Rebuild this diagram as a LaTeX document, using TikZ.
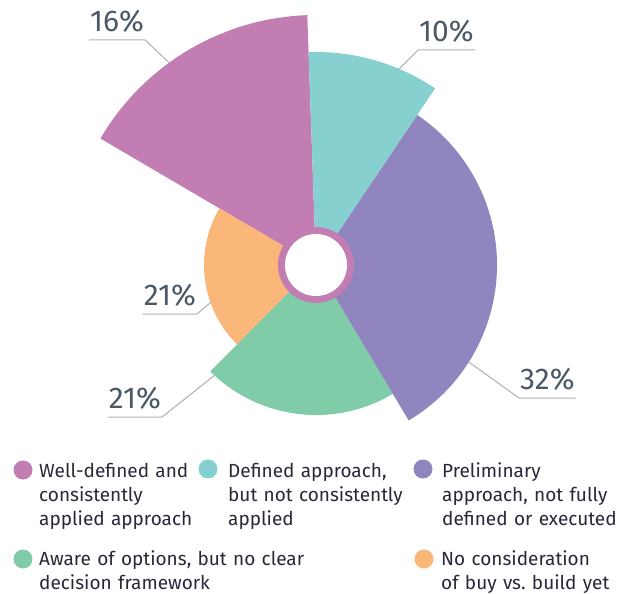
\documentclass[tikz,border=0pt]{standalone}
\usepackage{fontspec}
\setmainfont{Fira Sans}
\newfontfamily\pctfont{Fira Sans}
\usetikzlibrary{positioning}

\definecolor{wellpink}{RGB}{194,125,179}
\definecolor{definedteal}{RGB}{134,209,207}
\definecolor{prelimpurple}{RGB}{144,133,191}
\definecolor{awaregreen}{RGB}{128,203,168}
\definecolor{noneorange}{RGB}{251,182,121}
\definecolor{pctgrey}{RGB}{75,88,102}
\definecolor{leadergrey}{RGB}{170,176,182}
\definecolor{legendink}{RGB}{38,41,54}

\begin{document}
\begin{tikzpicture}[
  x=1pt, y=1pt,
  pct/.style = {font=\pctfont\fontsize{30}{30}\selectfont, text=pctgrey, inner xsep=1pt, inner ysep=7pt},
  leader/.style = {draw=leadergrey, line width=1pt},
  keydot/.style = {circle, minimum size=19pt, inner sep=0pt},
  keylabel/.style = {font=\fontsize{19}{24}\selectfont, text=legendink, text width=330pt, align=left, inner sep=0pt, anchor=base west},
]

  \useasboundingbox (0,0) rectangle (633,-594);

  \coordinate (c) at (316,-265);

  % sectors
  \fill[wellpink] (c) -- ([shift={(92:250)}]c) arc[start angle=92, end angle=149.6, radius=250] -- cycle;
  \fill[noneorange] (c) -- ([shift={(149.6:112)}]c) arc[start angle=149.6, end angle=225.2, radius=112] -- cycle;
  \fill[awaregreen] (c) -- ([shift={(225.2:150)}]c) arc[start angle=225.2, end angle=300.8, radius=150] -- cycle;
  \fill[prelimpurple] (c) -- ([shift={(300.8:181)}]c) arc[start angle=300.8, end angle=416, radius=181] -- cycle;
  \fill[definedteal] (c) -- ([shift={(56:213)}]c) arc[start angle=56, end angle=92, radius=213] -- cycle;

  % hole
  \fill[wellpink] (c) circle[radius=38];
  \fill[white] (c) circle[radius=31];

  % percentages
  \node (p16) [pct, anchor=south west] at (89,-40) {16\%};
  \node (p10) [pct, anchor=south west] at (418,-50) {10\%};
  \node (p32) [pct, anchor=south west] at (519,-398) {32\%};
  \node (p21o) [pct, anchor=south east] at (197,-314) {21\%};
  \node (p21g) [pct, anchor=south east] at (162,-417) {21\%};

  \coordinate (e16) at ([shift={(126:250)}]c);
  \coordinate (e10) at ([shift={(67:213)}]c);
  \coordinate (e32) at ([shift={(-32.4:181)}]c);
  \coordinate (e21o) at ([shift={(199.4:111)}]c);
  \coordinate (e21g) at ([shift={(227.4:150)}]c);

  \draw[leader] (e16) -- (p16.south east) -- (p16.south west);
  \draw[leader] (e10) -- (p10.south west) -- (p10.south east);
  \draw[leader] (e32) -- (p32.south west) -- (p32.south east);
  \draw[leader] (e21o) -- (p21o.south east) -- (p21o.south west);
  \draw[leader] (e21g) -- (p21g.south east) -- (p21g.south west);

  % legend
  \node (kwell) [keydot, fill=wellpink] at (23,-470) {};
  \node (kdefined) [keydot, fill=definedteal] at (208,-469) {};
  \node (kprelim) [keydot, fill=prelimpurple] at (423,-469) {};
  \node (kaware) [keydot, fill=awaregreen] at (23,-559) {};
  \node (knone) [keydot, fill=noneorange] at (424,-559) {};

  \node (twell) [keylabel] at (39,-477) {Well-defined and\\consistently\\applied approach};
  \node (tdefined) [keylabel] at (228,-477) {Defined approach,\\but not consistently\\applied};
  \node (tprelim) [keylabel] at (442,-477) {Preliminary\\approach, not fully\\defined or executed};
  \node (taware) [keylabel] at (39,-565) {Aware of options, but no clear\\decision framework};
  \node (tnone) [keylabel] at (441,-565) {No consideration\\of buy vs.\ build yet};

\end{tikzpicture}
\end{document}
